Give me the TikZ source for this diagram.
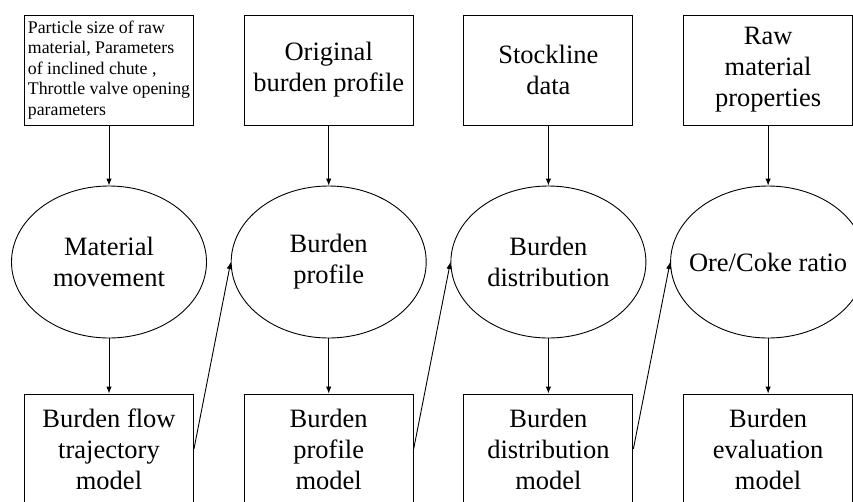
\documentclass[tikz,border=0pt]{standalone}
\usepackage{fontspec}
\setmainfont{Liberation Serif}
\usetikzlibrary{shapes.geometric,arrows.meta}

\begin{document}
\begin{tikzpicture}[x=1pt, y=1pt, line width=0.9pt,
	box/.style={draw, rectangle, minimum width=169pt, minimum height=110pt, inner sep=1pt, align=center, font=\fontsize{26.5}{31}\selectfont},
	notebox/.style={box, align=left, font=\fontsize{17.8}{20.6}\selectfont},
	stage/.style={draw, ellipse, minimum width=195pt, minimum height=152pt, inner sep=0pt, inner xsep=-15pt, align=center, font=\fontsize{26.5}{31}\selectfont},
	flow/.style={-{Latex[length=7pt, width=5.5pt]}}]
					\clip (0,0) rectangle (853,-501);
					% column labels
					\def\inputs {{Particle size of raw\\material, Parameters\\of inclined chute ,\\Throttle valve opening\\parameters}/notebox, {Original\\burden profile}/box, {Stockline\\data}/box, {Raw\\material\\properties}/box};
					\def\stages {{Material\\movement}, {Burden\\profile}, {Burden\\distribution}, {Ore/Coke ratio}};
					\def\models {{Burden flow\\trajectory\\model}, {Burden\\profile\\model}, {Burden\\distribution\\model}, {Burden\\evaluation\\model}};
					% column spacing
					\def\colStep {219.7};
					% input boxes
					\foreach \label/\kind [count=\index] in \inputs
					{
						\node[\kind] (input_\index) at ({109+(\index-1)*\colStep}, -70) {\label};
					}
					% stage ellipses
					\foreach \label [count=\index] in \stages
					{
						\node[stage] (stage_\index) at ({109+(\index-1)*\colStep}, -262) {\label};
					}
					% model boxes
					\foreach \label [count=\index] in \models
					{
						\node[box] (model_\index) at ({109+(\index-1)*\colStep}, -449) {\label};
					}
					% arrows
					\foreach \current in {1,...,4}
					{
						\draw[flow] (input_\current) -- (stage_\current);
						\draw[flow] (stage_\current) -- (model_\current);
					}
					% model to next stage
					\foreach \current in {1,...,3}
					{
						\pgfmathtruncatemacro{\next}{\current+1};
						\draw[flow] (model_\current.east) -- (stage_\next.west);
					}
				\end{tikzpicture}
\end{document}
